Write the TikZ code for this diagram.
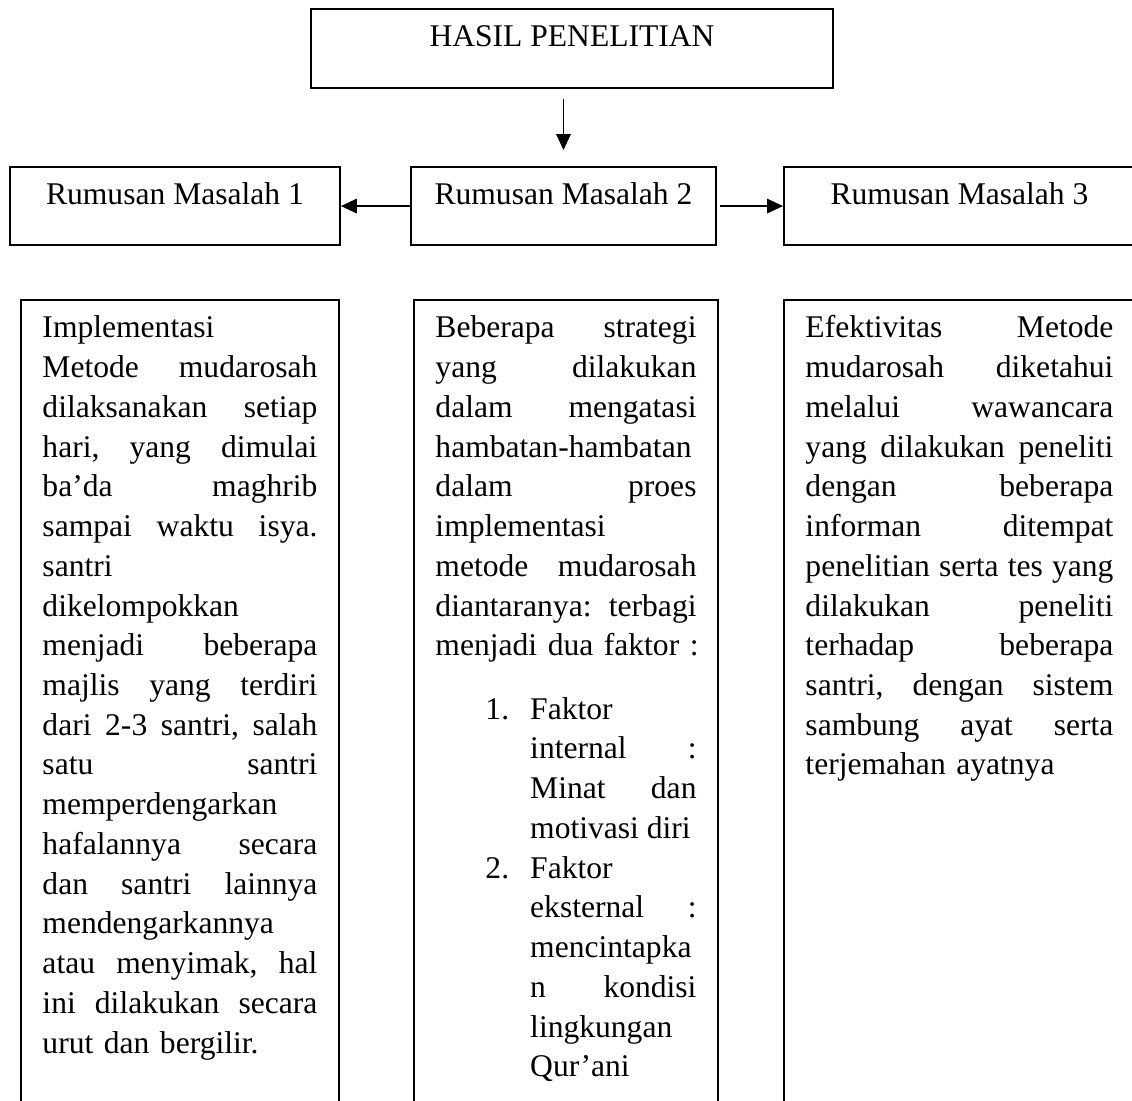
\documentclass[tikz,border=0pt]{standalone}
\usepackage{fontspec}
\setmainfont{Liberation Serif}
\usetikzlibrary{arrows.meta, calc}

% One line of a column, spread to the full width
\newcommand{\jline}[1]{\hbox to \linewidth{\frenchspacing\spaceskip=3pt plus 1fil\relax #1}}
% One line of a column, flush left
\newcommand{\lline}[1]{\hbox to \linewidth{#1\hfil}}
% One line of a numbered item
\newcommand{\iline}[2]{\hbox to \linewidth{\hskip 19pt\hbox to 17pt{#1\hfil}{\advance\linewidth by -36pt\jline{#2}}}}

\begin{document}
\begin{tikzpicture}[x=0.38pt, y=-0.38pt,
    every node/.style={font=\fontsize{12}{15.1}\selectfont},
    rmbox/.style={draw, line width=0.75pt, anchor=north west, inner sep=0pt, text height=14.1pt, text depth=15.6pt},
    isibox/.style={draw, line width=0.75pt, anchor=north west, inner xsep=8.17pt, inner ysep=0pt, text height=14.4pt, text depth=330pt},
    link/.style={-{Triangle[length=6pt, width=5.5pt]}, line width=0.5pt}]

    % Page size
    \def\wpage{1132}
    \def\hpage{1101}
    \useasboundingbox (0,0) rectangle (\wpage,\hpage);
    \clip (0,0) rectangle (\wpage,\hpage);

    % Title
    \node[rmbox, minimum width=198.4pt, text height=14.4pt] (hasil) at (310,8) {HASIL PENELITIAN};

    % Rumusan masalah
    \node[rmbox, minimum width=125.4pt] (rm1) at (9,166)   {Rumusan Masalah 1};
    \node[rmbox, minimum width=115.9pt] (rm2) at (410,166) {Rumusan Masalah 2};
    \node[rmbox, minimum width=133.4pt] (rm3) at (783,166) {Rumusan Masalah 3};

    % Arrows
    \draw[link] ($(hasil.south -| rm2.north)+(0,10)$) -- ($(rm2.north)+(0,-16)$);
    \draw[link] (rm2.west) -- (rm1.east);
    \draw[link] ($(rm2.east)+(3,0)$) -- (rm3.west);

    % Results, column 1
    \node[isibox, text width=104.5pt] (isi1) at (20,299) {\vtop{%
        \lline{Implementasi}
        \jline{Metode mudarosah}
        \jline{dilaksanakan setiap}
        \jline{hari, yang dimulai}
        \jline{ba’da maghrib}
        \jline{sampai waktu isya.}
        \lline{santri}
        \lline{dikelompokkan}
        \jline{menjadi beberapa}
        \jline{majlis yang terdiri}
        \jline{dari 2-3 santri, salah}
        \jline{satu santri}
        \lline{memperdengarkan}
        \jline{hafalannya secara}
        \jline{dan santri lainnya}
        \lline{mendengarkannya}
        \jline{atau menyimak, hal}
        \jline{ini dilakukan secara}
        \lline{urut dan bergilir.}}};

    % Results, column 2
    \node[isibox, text width=99.2pt] (isi2) at (413,299) {\vtop{%
        \jline{Beberapa strategi}
        \jline{yang dilakukan}
        \jline{dalam mengatasi}
        \lline{hambatan-hambatan}
        \jline{dalam proes}
        \lline{implementasi}
        \jline{metode mudarosah}
        \jline{diantaranya: terbagi}
        \lline{menjadi dua faktor :}
        \vskip 9pt
        \iline{1.}{Faktor\hfill}
        \iline{}{internal :}
        \iline{}{Minat dan}
        \iline{}{motivasi diri\hfill}
        \iline{2.}{Faktor\hfill}
        \iline{}{eksternal :}
        \iline{}{mencintapka\hfill}
        \iline{}{n kondisi}
        \iline{}{lingkungan\hfill}
        \iline{}{Qur’ani\hfill}}};

    % Results, column 3
    \node[isibox, text width=117pt] (isi3) at (783,299) {\vtop{%
        \jline{Efektivitas Metode}
        \jline{mudarosah diketahui}
        \jline{melalui wawancara}
        \jline{yang dilakukan peneliti}
        \jline{dengan beberapa}
        \jline{informan ditempat}
        \jline{penelitian serta tes yang}
        \jline{dilakukan peneliti}
        \jline{terhadap beberapa}
        \jline{santri, dengan sistem}
        \jline{sambung ayat serta}
        \lline{terjemahan ayatnya}}};

\end{tikzpicture}
\end{document}
